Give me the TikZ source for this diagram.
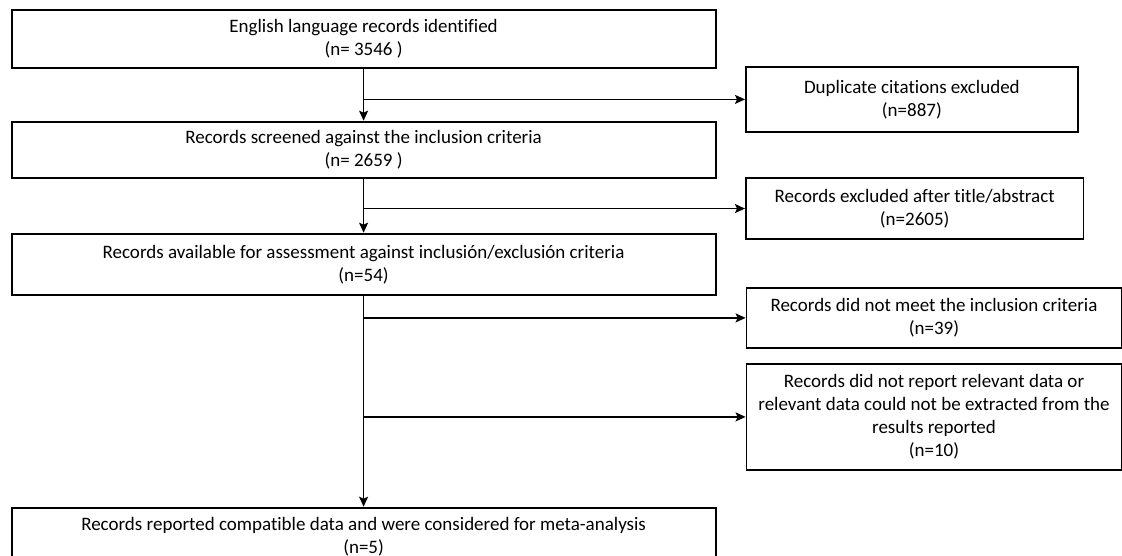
\documentclass[tikz,border=0pt]{standalone}
\usepackage{fontspec}
\setmainfont{Carlito}[Ligatures = NoCommon]
\usetikzlibrary{arrows.meta}
\tikzset{
  record/.style = {draw, line width = 1.8pt, align = center,
  anchor = north west, inner sep = 0pt, font = \fontsize{19}{23}\selectfont,
  execute at begin node = \rule{0pt}{20pt}},
  flow/.style = {line width = 1.5pt,
  -{Stealth[length = 10pt, width = 9pt, inset = 2pt]}}
}
\begin{document}
\begin{tikzpicture}[x = 1pt, y = -1pt]
  \clip (0, 0) rectangle (1122, 555);
  \node[record, minimum width = 704pt, minimum height = 58pt] (ident) at
  (10.7, 8.7) {English language records identified\\(n= 3546 )};
  \node[record, minimum width = 332pt, minimum height = 65pt] (dup) at
  (745, 66) {Duplicate citations excluded\\(n=887)};
  \node[record, minimum width = 704pt, minimum height = 56.6pt] (screen) at
  (10.7, 120.7) {Records screened against the inclusion criteria\\(n= 2659 )};
  \node[record, minimum width = 337.6pt, minimum height = 60.7pt] (title) at
  (745, 177.3) {Records excluded after title/abstract\\(n=2605)};
  \node[record, minimum width = 704pt, minimum height = 61.6pt] (avail) at
  (10.7, 232.7) {Records available for assessment against
  inclusión/exclusión criteria\\(n=54)};
  \node[record, minimum width = 375pt, minimum height = 59.4pt] (nomeet) at
  (745.6, 287.3) {Records did not meet the inclusion criteria\\(n=39)};
  \node[record, minimum width = 375pt, minimum height = 106.6pt] (nodata) at
  (745.6, 362.7) {Records did not report relevant data or\\relevant data
  could not be extracted from the\\results reported\\(n=10)};
  \node[record, minimum width = 704pt, minimum height = 58pt] (meta) at
  (10.7, 506.7) {Records reported compatible data and were considered for
  meta-analysis\\(n=5)};
  \draw[flow] (ident.south) -- (screen.north);
  \draw[flow] (ident.south |- dup.west) -- (dup.west);
  \draw[flow] (screen.south) -- (avail.north);
  \draw[flow] (screen.south |- title.west) -- (title.west);
  \draw[flow] (avail.south) -- (meta.north);
  \draw[flow] (avail.south |- nomeet.west) -- (nomeet.west);
  \draw[flow] (avail.south |- nodata.west) -- (nodata.west);
\end{tikzpicture}
\end{document}
